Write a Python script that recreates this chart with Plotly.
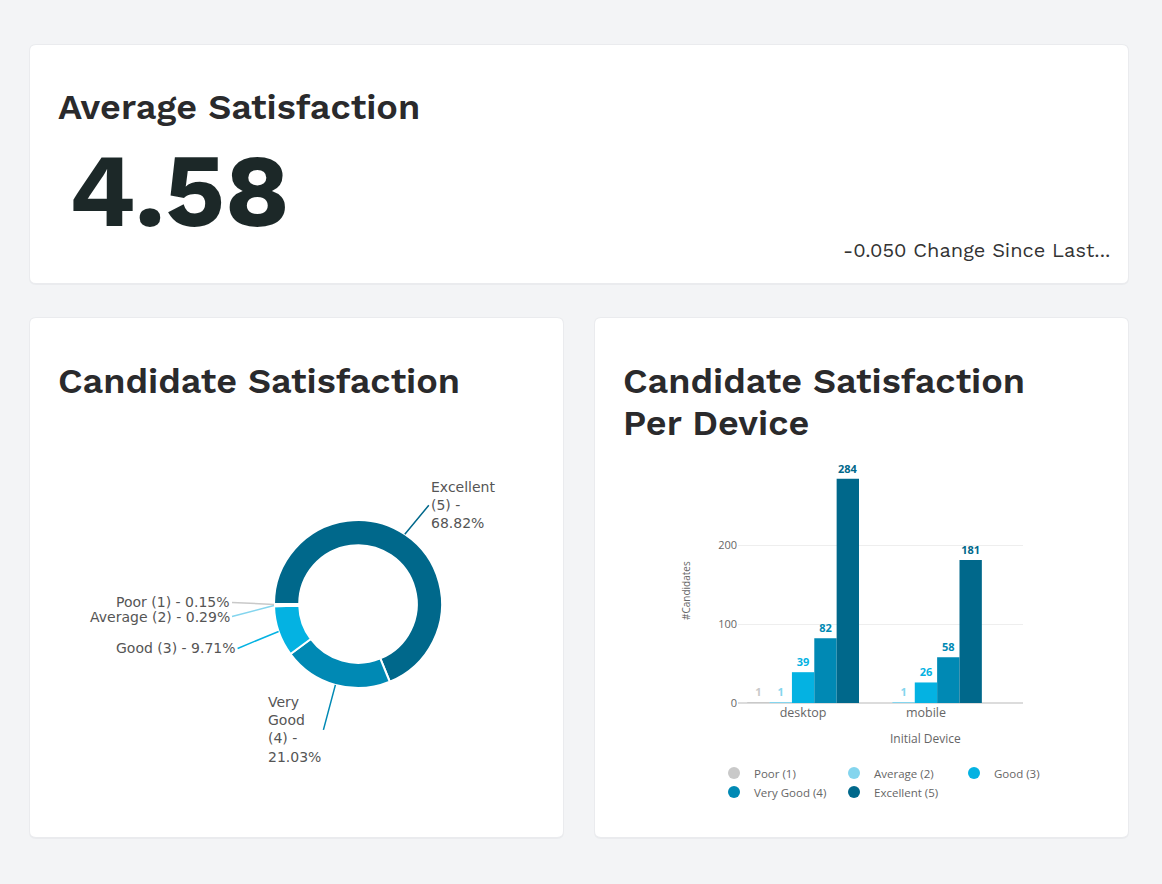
import math
import plotly.graph_objects as go

W, H = 1162, 884

# ---- data ----
kpi_value = "4.58"
kpi_change = "-0.050 Change Since Last..."

rating_labels = ["Excellent (5)", "Very Good (4)", "Good (3)", "Average (2)", "Poor (1)"]
rating_share = [68.82, 21.03, 9.71, 0.29, 0.15]

devices = ["desktop", "mobile"]
series_names = ["Poor (1)", "Average (2)", "Good (3)", "Very Good (4)", "Excellent (5)"]
desktop_counts = [1, 1, 39, 82, 284]
mobile_counts = [0, 1, 26, 58, 181]

colors = {
    "Poor (1)": "#c9c9c9",
    "Average (2)": "#84d5ee",
    "Good (3)": "#04b2e2",
    "Very Good (4)": "#0089b4",
    "Excellent (5)": "#00688b",
}

HEAD_FONT = "Work Sans, Inter, sans-serif"
CHART_FONT = "Open Sans, sans-serif"
LABEL_FONT = "DejaVu Sans, sans-serif"


def px_x(x):
    return x / W


def px_y(y):
    return 1 - y / H


def rounded_rect(x0, y0, x1, y1, r):
    """SVG path for a rounded rectangle, given in pixels (y down)"""
    def p(x, y):
        return f"{px_x(x):.5f},{px_y(y):.5f}"
    return (f"M {p(x0 + r, y0)} L {p(x1 - r, y0)} Q {p(x1, y0)} {p(x1, y0 + r)} "
            f"L {p(x1, y1 - r)} Q {p(x1, y1)} {p(x1 - r, y1)} L {p(x0 + r, y1)} "
            f"Q {p(x0, y1)} {p(x0, y1 - r)} L {p(x0, y0 + r)} Q {p(x0, y0)} {p(x0 + r, y0)} Z")


fig = go.Figure()

# ---- donut ----
CX, CY, R = 358, 604, 84
fig.add_trace(go.Pie(
    labels=rating_labels,
    values=rating_share,
    hole=0.70,
    sort=False,
    direction="clockwise",
    rotation=270,
    textinfo="none",
    marker=dict(colors=[colors[n] for n in rating_labels], line=dict(color="white", width=2)),
    domain=dict(x=[px_x(CX - R), px_x(CX + R)], y=[px_y(CY + R), px_y(CY - R)]),
    showlegend=False,
    hoverinfo="label+percent",
))

# ---- grouped bars ----
for i, name in enumerate(series_names):
    vals = [desktop_counts[i], mobile_counts[i]]
    fig.add_trace(go.Bar(
        x=devices,
        y=vals,
        name=name,
        marker=dict(color=colors[name], line=dict(width=0)),
        text=[str(v) if v > 0 else "" for v in vals],
        textposition="outside",
        textfont=dict(family=CHART_FONT, size=11, color=colors[name], weight=700),
        cliponaxis=False,
        showlegend=False,
    ))

# legend entries with round symbols, split into two rows
for i, name in enumerate(series_names):
    fig.add_trace(go.Scatter(
        x=[None], y=[None], mode="markers", name=name,
        marker=dict(color=colors[name], size=12, symbol="circle"),
        legend="legend" if i < 3 else "legend2",
    ))

# ---- cards ----
shapes = []
for (x0, y0, x1, y1) in [(30, 45, 1128, 283), (30, 318, 563, 837), (595, 318, 1128, 837)]:
    shapes.append(dict(type="path", path=rounded_rect(x0 - 1, y0 - 1, x1 + 1, y1 + 2, 7),
                       xref="paper", yref="paper", fillcolor="#eaebee", line=dict(width=0), layer="below"))
    shapes.append(dict(type="path", path=rounded_rect(x0, y0, x1, y1, 6),
                       xref="paper", yref="paper", fillcolor="white", line=dict(width=0), layer="below"))

# ---- text ----
annotations = [
    dict(text="Average Satisfaction", x=px_x(56), y=px_y(107), xanchor="left", yanchor="middle",
         font=dict(family=HEAD_FONT, size=36, color="#2a2a2c", weight=600)),
    dict(text=kpi_value, x=px_x(67), y=px_y(190), xanchor="left", yanchor="middle",
         font=dict(family=HEAD_FONT, size=103, color="#1c2828", weight=700)),
    dict(text=kpi_change, x=px_x(1112), y=px_y(250), xanchor="right", yanchor="middle",
         font=dict(family=HEAD_FONT, size=20, color="#333333")),
    dict(text="Candidate Satisfaction", x=px_x(56), y=px_y(381), xanchor="left", yanchor="middle",
         font=dict(family=HEAD_FONT, size=36, color="#2a2a2c", weight=600)),
    dict(text="Candidate Satisfaction", x=px_x(621), y=px_y(381), xanchor="left", yanchor="middle",
         font=dict(family=HEAD_FONT, size=36, color="#2a2a2c", weight=600)),
    dict(text="Per Device", x=px_x(621), y=px_y(423), xanchor="left", yanchor="middle",
         font=dict(family=HEAD_FONT, size=36, color="#2a2a2c", weight=600)),
    dict(text="#Candidates", x=px_x(686), y=px_y(591), textangle=-90, xanchor="center", yanchor="middle",
         font=dict(family=CHART_FONT, size=10, color="#666666")),
    dict(text="Initial Device", x=1, xref="x", y=px_y(738), yref="paper", xanchor="center", yanchor="middle",
         font=dict(family=CHART_FONT, size=12, color="#666666")),
]

# donut labels with leader lines, anchored at each slice's mid angle
label_style = {
    "Excellent (5)": dict(text="Excellent<br>(5) -<br>{p}%", ax=24, ay=-29, xanchor="left"),
    "Very Good (4)": dict(text="Very<br>Good<br>(4) -<br>{p}%", ax=-12, ay=45, xanchor="right"),
    "Good (3)": dict(text="Good (3) - {p}%", ax=-41, ay=17, xanchor="right"),
    "Average (2)": dict(text="Average (2) - {p}%", ax=-42, ay=11, xanchor="right"),
    "Poor (1)": dict(text="Poor (1) - {p}%", ax=-42, ay=-2, xanchor="right"),
}
total = sum(rating_share)
angle = 270.0
for name, share in zip(rating_labels, rating_share):
    span = share / total * 360
    mid = math.radians(angle + span / 2)
    angle += span
    hx = CX + R * math.sin(mid)
    hy = CY - R * math.cos(mid)
    st = label_style[name]
    annotations.append(dict(
        text=st["text"].format(p=f"{share:.2f}"),
        x=px_x(hx), y=px_y(hy), ax=st["ax"], ay=st["ay"],
        xanchor=st["xanchor"], yanchor="middle", align="left",
        showarrow=True, arrowhead=0, arrowwidth=1.5, arrowcolor=colors[name],
        font=dict(family=LABEL_FONT, size=14, color="#555555"),
    ))

for a in annotations:
    a.setdefault("xref", "paper")
    a.setdefault("yref", "paper")
    a.setdefault("showarrow", False)

legend_common = dict(orientation="h", xanchor="left", yanchor="middle",
                     entrywidth=75, entrywidthmode="pixels", bgcolor="rgba(0,0,0,0)",
                     font=dict(family=CHART_FONT, size=11.5, color="#666666"), itemclick=False)

fig.update_layout(
    width=W, height=H,
    margin=dict(l=0, r=0, t=0, b=0, autoexpand=False),
    paper_bgcolor="#f3f4f6",
    plot_bgcolor="rgba(0,0,0,0)",
    barmode="group",
    bargap=0.09,
    bargroupgap=0,
    shapes=shapes,
    annotations=annotations,
    xaxis=dict(domain=[px_x(738), px_x(1023)], range=[-0.53, 1.79], showgrid=False,
               showline=False, ticks="", tickfont=dict(family=CHART_FONT, size=12.5, color="#666666"),
               anchor="y", fixedrange=True, automargin=False),
    yaxis=dict(domain=[px_y(703), px_y(466)], range=[0, 300], tickvals=[0, 100, 200],
               showgrid=True, gridcolor="#eeeeee", zeroline=True, zerolinecolor="#dcdcdc",
               zerolinewidth=1.5, tickfont=dict(family=CHART_FONT, size=11, color="#666666"),
               ticks="", anchor="x", fixedrange=True, automargin=False),
    legend=dict(x=px_x(714), y=px_y(773), **legend_common),
    legend2=dict(x=px_x(714), y=px_y(792), **legend_common),
    font=dict(family=CHART_FONT),
)

# the page's default body margin would push the figure off by 8px
fig.write_html("out.html", config={"displayModeBar": False},
               post_script="document.body.style.margin='0';")
